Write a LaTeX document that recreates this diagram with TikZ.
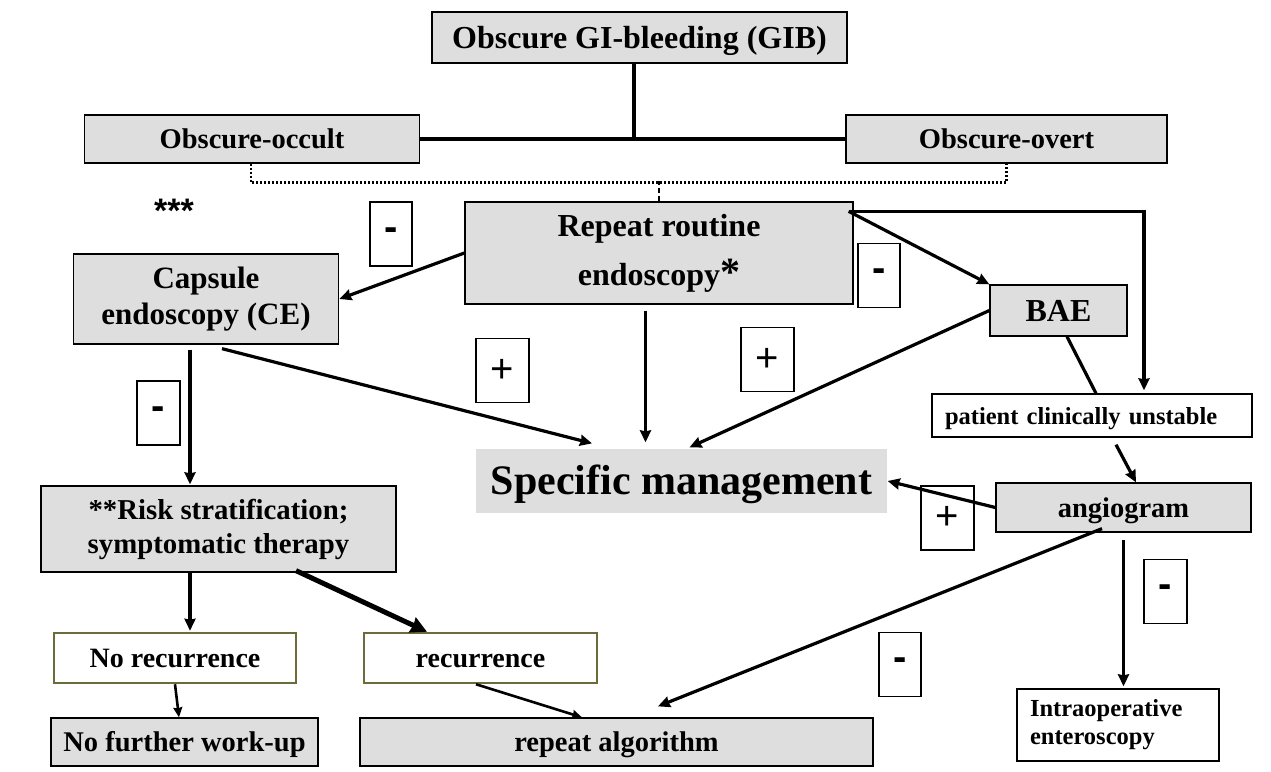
\documentclass[tikz,border=0pt]{standalone}
\usepackage{fontspec}
\usepackage{xcolor}
\usepackage{tikz}
\usetikzlibrary{arrows.meta}
\setmainfont{Liberation Serif}
\newfontfamily\signfont{Liberation Sans}
\definecolor{boxgray}{RGB}{222,222,222}
\definecolor{boxolive}{RGB}{110,107,58}
\newcommand{\setfs}[2]{\fontsize{#1}{#2}\selectfont}

\begin{document}
\begin{tikzpicture}[x=1pt,y=-1pt,
  graybox/.style={draw=black,line width=1.3pt,fill=boxgray,inner sep=0pt,align=center,font=\bfseries\setfs{28.5}{34}},
  whitebox/.style={draw=black,line width=1.3pt,fill=white,inner sep=0pt,font=\bfseries\setfs{24.5}{28}},
  olivebox/.style={draw=boxolive,line width=2.5pt,fill=white,inner sep=0pt,align=center,font=\bfseries\setfs{28}{34}},
  oneline/.style={text height=#1,text depth=0pt},
  oneline/.default=19.4pt,
  signbox/.style={draw=black,line width=1.3pt,fill=white,inner sep=0pt,minimum height=64pt,font=\signfont\setfs{40}{40}},
  conn/.style={line width=3.2pt},
  arr/.style={conn,-{Stealth[length=12pt,width=11pt,inset=1pt]}}]
\useasboundingbox (0,0) rectangle (1271,771);
% boxes
\node[graybox,oneline=21.8pt,minimum width=415pt,minimum height=51pt,font=\bfseries\setfs{32}{36}] (gib) at (639.5,37.5) {Obscure GI-bleeding (GIB)};
\node[graybox,oneline,minimum width=335pt,minimum height=48pt] (occult) at (252,139) {Obscure-occult};
\node[graybox,oneline,minimum width=321pt,minimum height=48pt] (overt) at (1006.5,139) {Obscure-overt};
\node[graybox,minimum width=388pt,minimum height=102pt,font=\bfseries\setfs{32}{49}] (repeat) at (659,253) {Repeat routine\\endoscopy{\setfs{40}{49}*}};
\node[graybox,minimum width=265.5pt,minimum height=90pt,font=\bfseries\setfs{31}{36}] (capsule) at (206,299) {Capsule\\endoscopy (CE)};
\node[graybox,oneline=21.8pt,minimum width=137pt,minimum height=51pt,font=\bfseries\setfs{32}{36}] (bae) at (1058.5,310.5) {BAE};
\node[graybox,oneline=27pt,draw=none,minimum width=411pt,minimum height=64pt,font=\bfseries\setfs{42}{46}] (specific) at (681.5,481) {Specific management};
\node[whitebox,oneline=18pt,minimum height=43pt,text width=294pt,inner xsep=13pt,align=left] (patient) at (1092,415.5) {patient clinically unstable};
\node[graybox,minimum width=355pt,minimum height=86pt,font=\bfseries\setfs{28.8}{34}] (risk) at (218.5,529) {**Risk stratification;\\symptomatic therapy};
\node[graybox,oneline,minimum width=255pt,minimum height=49pt] (angio) at (1123.5,507.5) {angiogram};
\node[olivebox,oneline,minimum width=242pt,minimum height=50pt] (norec) at (175,658) {No recurrence};
\node[olivebox,oneline,minimum width=233pt,minimum height=50pt] (rec) at (480.5,658) {recurrence};
\node[graybox,oneline,minimum width=267pt,minimum height=48pt] (nofurther) at (184.5,742) {No further work-up};
\node[graybox,oneline,minimum width=513pt,minimum height=48pt] (repalg) at (616.5,742) {repeat algorithm};
\node[whitebox,minimum height=72pt,text width=176pt,inner xsep=13pt,align=left] (intra) at (1118,725) {Intraoperative\\enteroscopy};
% signs
\node[signbox,minimum width=42pt] (minusa) at (391,234) {\bfseries -};
\node[signbox,minimum width=42pt] (minusb) at (879,275.5) {\bfseries -};
\node[signbox,minimum width=43pt] (minusc) at (158.5,413) {\bfseries -};
\node[signbox,minimum width=53pt] (plusa) at (502.5,370.5) {+};
\node[signbox,minimum width=53pt] (plusb) at (767.5,359.5) {+};
\node[signbox,minimum width=53pt] (plusc) at (947.5,518) {+};
\node[signbox,minimum width=43pt] (minusd) at (1165.5,591.5) {\bfseries -};
\node[signbox,minimum width=42pt] (minuse) at (900,664.5) {\bfseries -};
\node[font=\signfont\bfseries\setfs{34}{34}] (stars) at (174,211) {***};
% connectors
\draw[conn] (occult) -- (overt);
\draw[conn] ([xshift=-5.5pt]gib.south) -- ([xshift=-5.5pt]gib.south |- occult.east);
\draw[line width=2.6pt,dash pattern=on 2pt off 2pt] ([xshift=-1pt]occult.south) -- ++(0,19) -| (overt.south);
\draw[line width=2.6pt,dash pattern=on 5pt off 3pt] (repeat.north) -- ++(0,-20);
\draw[arr] (repeat.west) -- (capsule.east);
\draw[arr,shorten <=6pt,shorten >=6pt] ([xshift=-13.5pt]repeat.south) -- ([xshift=-13.5pt]repeat.south |- specific.north);
\coordinate (corner) at ([xshift=-5pt,yshift=-10pt]repeat.north east);
\draw[arr] (corner) -- (bae.north west);
\draw[arr,shorten >=3pt] (corner) -| ([xshift=52pt]patient.north);
\draw[arr] (bae.west) -- ([xshift=8pt,yshift=1pt]specific.north);
\draw[conn] ([xshift=8.5pt]bae.south) -- ([xshift=4pt]patient.north);
\draw[arr] ([xshift=24pt,yshift=-7pt]patient.south) -- ([xshift=12.5pt]angio.north);
\draw[arr] (angio.west) -- (specific.east);
\draw[arr] ([xshift=-21.5pt,yshift=4pt]angio.south) -- ([xshift=41.5pt,yshift=11pt]repalg.north);
\draw[arr,shorten <=7pt,shorten >=2pt] (angio.south) -- (angio.south |- intra.north);
\draw[arr,shorten <=5pt,shorten >=1pt] ([xshift=-16pt]capsule.south) -- ([xshift=-16pt]capsule.south |- risk.north);
\draw[arr] ([xshift=16pt,yshift=-4pt]capsule.south) -- ([xshift=-89.5pt,yshift=5pt]specific.north);
\draw[arr,shorten >=1pt] ([xshift=-28.5pt]risk.south) -- ([xshift=-28.5pt]risk.south |- norec.north);
\draw[line width=5pt,-{Stealth[length=16pt,width=16pt,inset=1pt]}] ([xshift=77.5pt,yshift=2pt]risk.south) -- ([xshift=-53.5pt]rec.north);
\draw[line width=2.6pt,-{Stealth[length=10pt,width=9pt,inset=1pt]}] (norec.south) -- ([xshift=-5.5pt]nofurther.north);
\draw[line width=2.6pt,-{Stealth[length=10pt,width=9pt,inset=1pt]}] ([xshift=-4.5pt]rec.south) -- ([xshift=-34.5pt]repalg.north);
\end{tikzpicture}
\end{document}
